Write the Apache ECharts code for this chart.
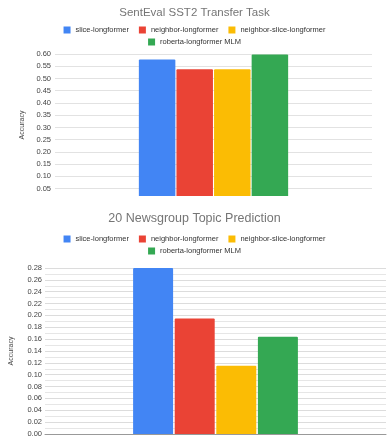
<!DOCTYPE html>
<html>
<head>
<meta charset="utf-8">
<script src="https://cdn.jsdelivr.net/npm/echarts@6/dist/echarts.min.js"></script>
<style>
    html, body { margin: 0; padding: 0; background: #fff; }
    #chart { width: 389px; height: 441px; }
</style>
</head>
<body>
<div id="chart"></div>
<script>
const categories = [""];
const seriesNames = ["slice-longformer", "neighbor-longformer", "neighbor-slice-longformer", "roberta-longformer MLM"];
const colors = ["#4285f4", "#ea4335", "#fbbc04", "#34a853"];
const sst2Values = [0.578, 0.538, 0.538, 0.598];
const newsValues = [0.281, 0.195, 0.115, 0.164];
const sst2Ticks = [0.05, 0.10, 0.15, 0.20, 0.25, 0.30, 0.35, 0.40, 0.45, 0.50, 0.55, 0.60];
const newsTicks = [0, 0.02, 0.04, 0.06, 0.08, 0.10, 0.12, 0.14, 0.16, 0.18, 0.20, 0.22, 0.24, 0.26, 0.28];

const font = "Arial, 'Liberation Sans', sans-serif";

function makeLegend(top, names) {
    return {
        top: top,
        left: "center",
        data: names,
        itemWidth: 7,
        itemHeight: 7,
        itemGap: 10,
        icon: "rect",
        textStyle: { fontSize: 7.5, color: "#333", fontFamily: font },
        selectedMode: false,
    };
}

function makeBars(values, gridIdx, barWidth, barGap) {
    return values.map((v, i) => ({
        name: seriesNames[i],
        type: "bar",
        xAxisIndex: gridIdx,
        yAxisIndex: gridIdx,
        barWidth: barWidth,
        barGap: barGap,
        color: colors[i],
        itemStyle: { borderRadius: [1, 1, 0, 0] },
        data: [v],
    }));
}

let chartOption = {
    animation: false,
    title: [
        {
            text: "SentEval SST2 Transfer Task",
            left: "center",
            top: 2,
            textStyle: { fontSize: 11.5, fontWeight: "normal", color: "#757575", fontFamily: font },
        },
        {
            text: "20 Newsgroup Topic Prediction",
            left: "center",
            top: 207,
            textStyle: { fontSize: 12.5, fontWeight: "normal", color: "#757575", fontFamily: font },
        },
    ],
    legend: [
        makeLegend(21, seriesNames.slice(0, 3)),
        makeLegend(33, seriesNames.slice(3)),
        makeLegend(230, seriesNames.slice(0, 3)),
        makeLegend(242, seriesNames.slice(3)),
    ],
    grid: [
        { left: 55, right: 17, top: 54, height: 142 },
        { left: 43, right: 3, top: 268, height: 166 },
    ],
    xAxis: [
        {
            gridIndex: 0,
            type: "category",
            data: categories,
            axisLine: { show: false },
            axisTick: { show: false },
            axisLabel: { show: false },
        },
        {
            gridIndex: 1,
            type: "category",
            data: categories,
            axisLine: { show: true, lineStyle: { color: "#999", width: 1 } },
            axisTick: { show: false },
            axisLabel: { show: false },
        },
    ],
    yAxis: [
        {
            gridIndex: 0,
            type: "value",
            min: 0.02,
            max: 0.6,
            name: "Accuracy",
            nameLocation: "middle",
            nameGap: 27,
            nameTextStyle: { fontSize: 7, color: "#444", fontFamily: font },
            axisLine: { show: false },
            axisTick: { show: false, customValues: sst2Ticks },
            axisLabel: {
                customValues: sst2Ticks,
                fontSize: 7.5,
                color: "#444",
                fontFamily: font,
                margin: 4,
                formatter: (v) => v.toFixed(2),
            },
            splitLine: { lineStyle: { color: "#e2e2e2" } },
        },
        {
            gridIndex: 1,
            type: "value",
            min: 0,
            max: 0.28,
            interval: 0.02,
            name: "Accuracy",
            nameLocation: "middle",
            nameGap: 30,
            nameTextStyle: { fontSize: 7, color: "#444", fontFamily: font },
            axisLine: { show: false },
            axisTick: { show: false },
            axisLabel: {
                fontSize: 7.5,
                color: "#444",
                fontFamily: font,
                margin: 3,
                formatter: (v) => v.toFixed(2),
            },
            splitLine: { lineStyle: { color: "#dcdcdc" } },
            minorTick: { show: false, splitNumber: 2 },
            minorSplitLine: { show: true, lineStyle: { color: "#e6e6e6" } },
        },
    ],
    series: [
        ...makeBars(sst2Values, 0, 36.5, "3%"),
        ...makeBars(newsValues, 1, 40, "4%"),
    ],
};

let myChart = echarts.init(document.getElementById("chart"));
myChart.setOption(chartOption);
</script>
</body>
</html>
